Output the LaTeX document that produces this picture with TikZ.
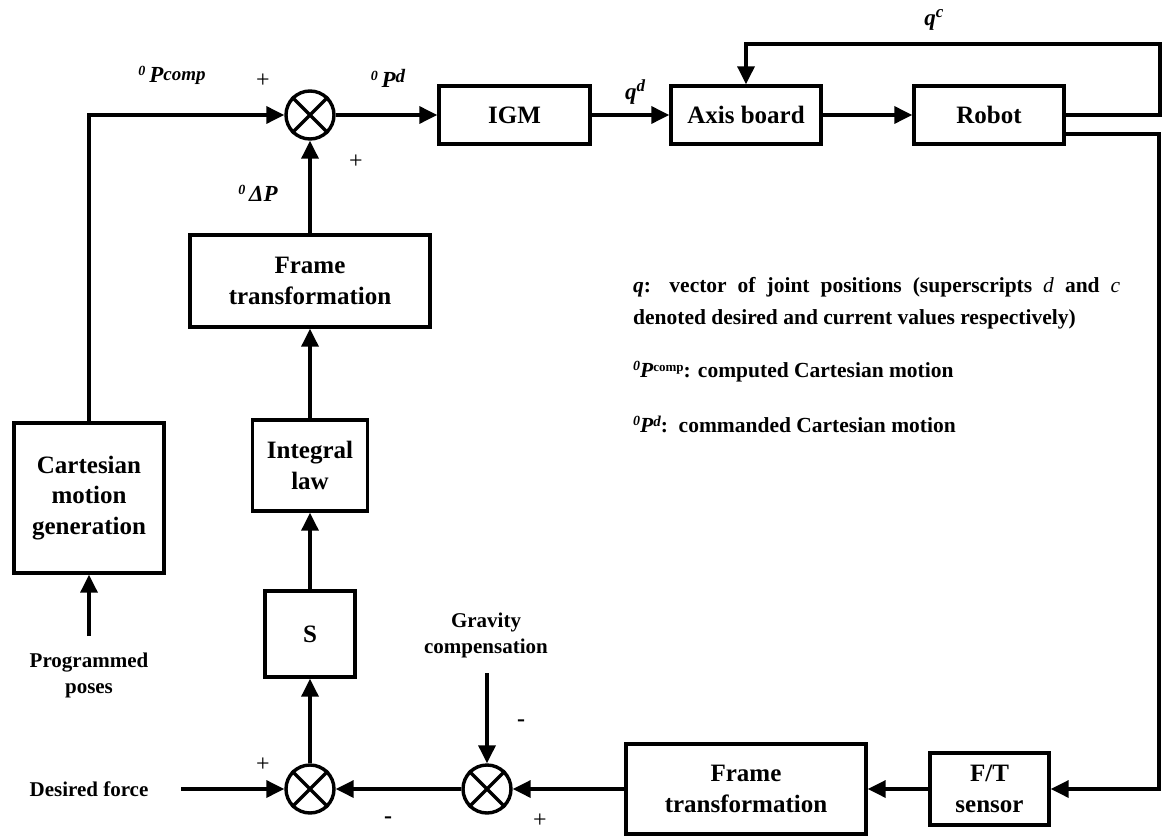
\documentclass[tikz,border=0pt]{standalone}
\usepackage{fontspec}
\setmainfont{Liberation Serif}
\usetikzlibrary{arrows.meta}

% font sizes (1pt = one unit of the drawing)
\newcommand{\boxfont}{\fontsize{25}{30.5}\selectfont\bfseries}
\newcommand{\labfont}{\fontsize{21}{26}\selectfont\bfseries}
\newcommand{\legfont}{\fontsize{21.5}{26}\selectfont\bfseries}
\newcommand{\symfont}{\fontsize{23}{23}\selectfont\bfseries\itshape}
% raised frame index "0"
\newcommand{\fidx}{\raisebox{7pt}{\fontsize{14}{14}\selectfont\bfseries\itshape 0}}

\begin{document}
\begin{tikzpicture}[x=1pt,y=-1pt,
  >={Triangle[length=18pt,width=17pt]},
  conn/.style={line width=3.4pt},
  block/.style={draw,line width=3.4pt,align=center,inner sep=0pt,font=\boxfont},
  sumj/.style={draw,circle,line width=3.4pt,minimum size=48pt,inner sep=0pt},
  lab/.style={align=center,font=\labfont,inner sep=0pt},
  sym/.style={font=\symfont,inner sep=0pt},
  plus/.style={font=\fontsize{24}{24}\selectfont,inner sep=0pt},
  minus/.style={font=\fontsize{24}{24}\selectfont\bfseries,inner sep=0pt}]

\useasboundingbox (0,0) rectangle (1164,837);

% ---- blocks ----
\node[block,minimum width=151pt,minimum height=58pt] (igm)   at (514.5,115) {IGM};
\node[block,minimum width=150pt,minimum height=58pt] (axis)  at (746,115)   {Axis board};
\node[block,minimum width=150pt,minimum height=58pt] (robot) at (989,115)   {Robot};
\node[block,minimum width=240pt,minimum height=92pt] (ftop)  at (310,281)   {Frame\\transformation};
\node[block,minimum width=115pt,minimum height=91pt] (intl)  at (310,465.5) {Integral\\law};
\node[block,minimum width=150pt,minimum height=150pt] (cmg)  at (89,498)    {Cartesian\\motion\\generation};
\node[block,minimum width=90pt,minimum height=86pt]  (sbox)  at (310,634)   {S};
\node[block,minimum width=240pt,minimum height=90pt] (fbot)  at (746,789)   {Frame\\transformation};
\node[block,minimum width=119pt,minimum height=72pt] (ft)    at (989.5,789) {F/T\\sensor};

% ---- summing junctions ----
\node[sumj] (s1) at (310,115) {};
\node[sumj] (s2) at (310,789) {};
\node[sumj] (s3) at (487,789) {};
\foreach \s in {s1,s2,s3}
  \draw[conn] (\s.north east) -- (\s.south west) (\s.north west) -- (\s.south east);

% ---- free texts ----
\node[lab] (prog) at (89,675) {Programmed\\poses};
\node[lab] (grav) at (486,635) {Gravity\\compensation};
\node[lab] (dfor) at (89,789)  {Desired force};

% ---- free ends of connectors ----
\coordinate (progin) at (89,636);
\coordinate (gravin) at (487,673);
\coordinate (dforin) at (181,789);
\coordinate (qcturn) at (1160,44);
\coordinate (ftturn) at (1159,789);

% ---- forward path ----
\draw[conn,->] (cmg.north) |- (s1.west);
\draw[conn,->] (progin) -- (cmg.south);
\draw[conn,->] (s1.east) -- (igm.west);
\draw[conn,->] (igm.east) -- (axis.west);
\draw[conn,->] (axis.east) -- (robot.west);
\draw[conn,->] (robot.east) -| (qcturn) -| (axis.north);

% ---- force loop ----
\draw[conn,->] ([yshift=-19pt]robot.east) -| (ftturn) -- (ft.east);
\draw[conn,->] (ft.west) -- (fbot.east);
\draw[conn,->] (fbot.west) -- (s3.east);
\draw[conn,->] (gravin) -- (s3.north);
\draw[conn,->] (s3.west) -- (s2.east);
\draw[conn,->] (dforin) -- (s2.west);
\draw[conn,->] (s2.north) -- (sbox.south);
\draw[conn,->] (sbox.north) -- (intl.south);
\draw[conn,->] (intl.north) -- (ftop.south);
\draw[conn,->] (ftop.north) -- (s1.south);

% ---- signal labels ----
\node[sym] (pcomp) at (172,75) {\fidx\,P\raisebox{2pt}{\fontsize{19}{19}\selectfont comp}};
\node[sym] (pdes)  at (388,78) {\fidx\,P\raisebox{5pt}{\fontsize{19}{19}\selectfont d}};
\node[sym] (dpos)  at (258,193) {\fidx\,ΔP};
\node[sym] (qdes)  at (635,92) {q\raisebox{8pt}{\fontsize{17}{17}\selectfont d}};
\node[sym] (qcur)  at (934,20) {q\raisebox{8pt}{\fontsize{17}{17}\selectfont c}};

% ---- signs ----
\node[plus]  (p1) at (263,81)  {+};
\node[plus]  (p2) at (356,162) {+};
\node[plus]  (p3) at (263,765) {+};
\node[plus]  (p4) at (540,821) {+};
\node[minus] (m1) at (521,723) {-};
\node[minus] (m2) at (388,820) {-};

% ---- legend ----
\node[anchor=base west,inner sep=0pt,font=\legfont] (leg1) at (633,292)
  {\makebox[487pt][s]{\textit{q}: vector of joint positions (superscripts \textmd{\textit{d}} and \textmd{\textit{c}}}};
\node[anchor=base west,inner sep=0pt,font=\legfont] (leg2) at (633,324)
  {denoted desired and current values respectively)};
\node[anchor=base west,inner sep=0pt,font=\legfont] (leg3) at (633,377)
  {{\itshape\fidx P}\raisebox{6pt}{\fontsize{13}{13}\selectfont comp}: computed Cartesian motion};
\node[anchor=base west,inner sep=0pt,font=\legfont] (leg4) at (633,432)
  {{\itshape\fidx P\raisebox{6pt}{\fontsize{15}{15}\selectfont d}}:\ \ commanded Cartesian motion};

\end{tikzpicture}
\end{document}
